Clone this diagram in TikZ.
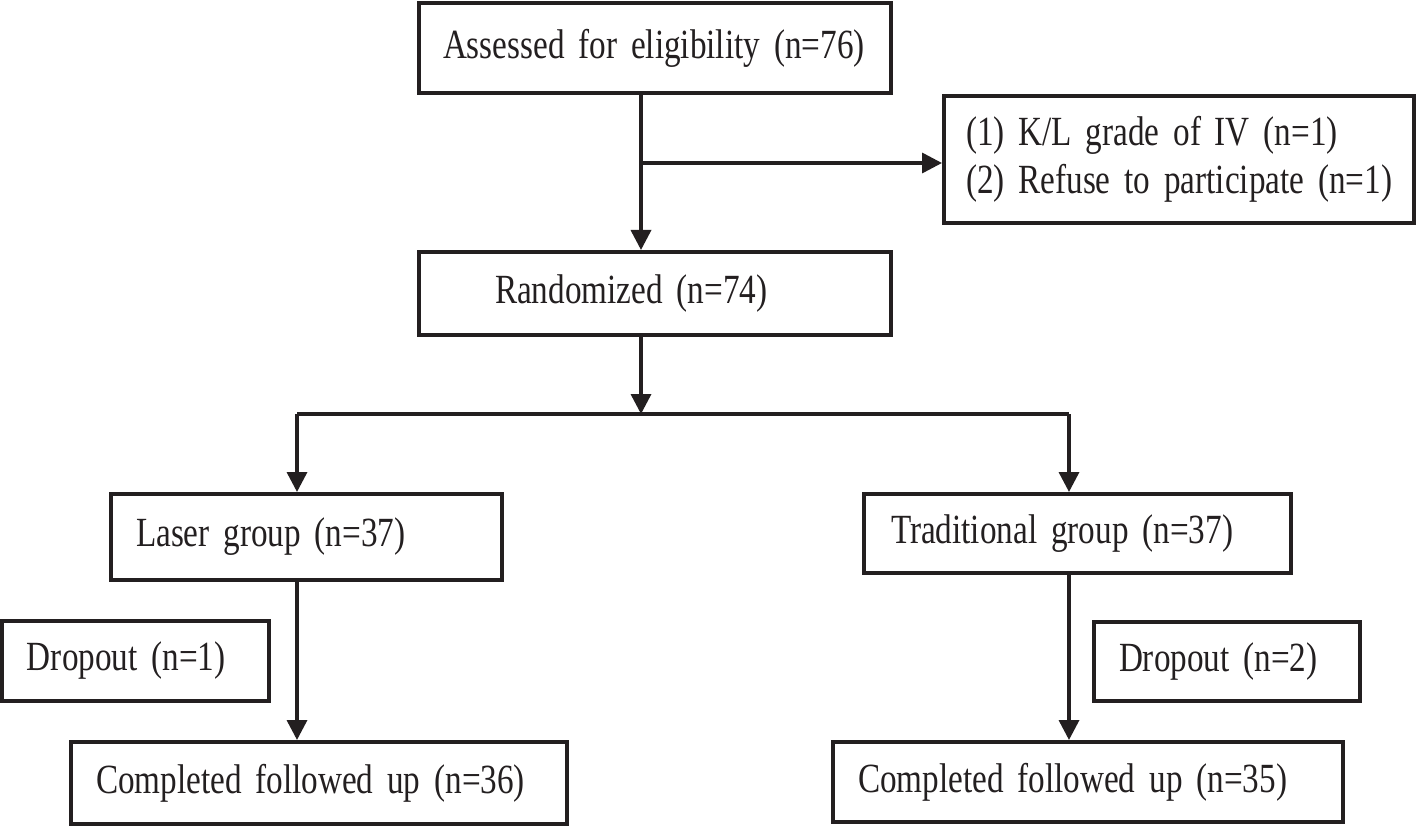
\documentclass[tikz,border=0pt]{standalone}
\usepackage{fontspec}
\setmainfont{Liberation Serif}[FakeStretch=0.80]
\usetikzlibrary{arrows.meta}
\definecolor{ink}{RGB}{35,31,32}
\newcommand\boxfont{\fontsize{41.5}{48}\selectfont}
\begin{document}
\begin{tikzpicture}[x=1pt,y=-1pt,
  box/.style={draw=ink, line width=4pt, inner ysep=0pt, align=left,
    font=\boxfont, text=ink},
  conn/.style={draw=ink, line width=3.5pt},
  arr/.style={conn, -{Triangle[width=20pt,length=20pt]}}]
\useasboundingbox (0,0) rectangle (1421,826);
% boxes (centre, width, height, text offset)
\node[box, minimum width=472pt, minimum height=90pt, inner xsep=24pt, text width=424pt] (assess) at (655,48) {\mbox{Assessed for eligibility (n=76)}};
\node[box, minimum width=470pt, minimum height=127pt, inner xsep=22pt, text width=426pt] (excl) at (1179,159.5) {\mbox{(1) K/L grade of IV (n=1)}\\\mbox{(2) Refuse to participate (n=1)}};
\node[box, minimum width=472pt, minimum height=83pt, inner xsep=76pt, text width=320pt] (rand) at (655,293.5) {\mbox{Randomized (n=74)}};
\node[box, minimum width=391pt, minimum height=86pt, inner xsep=25pt, text width=341pt] (laser) at (306.5,537) {\mbox{Laser group (n=37)}};
\node[box, minimum width=427pt, minimum height=79pt, inner xsep=27pt, text width=373pt] (trad) at (1077.5,533.5) {\mbox{Traditional group (n=37)}};
\node[box, minimum width=267pt, minimum height=80pt, inner xsep=25pt, text width=217pt] (drop1) at (135.5,661) {\mbox{Dropout (n=1)}};
\node[box, minimum width=266pt, minimum height=79pt, inner xsep=25pt, text width=216pt] (drop2) at (1227,661.5) {\mbox{Dropout (n=2)}};
\node[box, minimum width=496pt, minimum height=82pt, inner xsep=25pt, text width=446pt] (comp1) at (319,783) {\mbox{Completed followed up (n=36)}};
\node[box, minimum width=510pt, minimum height=80pt, inner xsep=25pt, text width=460pt] (comp2) at (1088,782) {\mbox{Completed followed up (n=35)}};
% junction points
\coordinate (spine) at (641,163);
\coordinate (split) at (641,414);
\coordinate (L) at (297,414);
\coordinate (R) at (1069,414);
% connectors
\draw[arr] (assess.south -| spine) -- (rand.north -| spine);
\draw[arr] (spine) -- (spine -| excl.west);
\draw[arr] (rand.south -| split) -- (split);
\draw[conn] (L) -- (R);
\draw[arr] (L) -- (L |- laser.north);
\draw[arr] (R) -- (R |- trad.north);
\draw[arr] (L |- laser.south) -- (L |- comp1.north);
\draw[arr] (R |- trad.south) -- (R |- comp2.north);
\end{tikzpicture}
\end{document}
